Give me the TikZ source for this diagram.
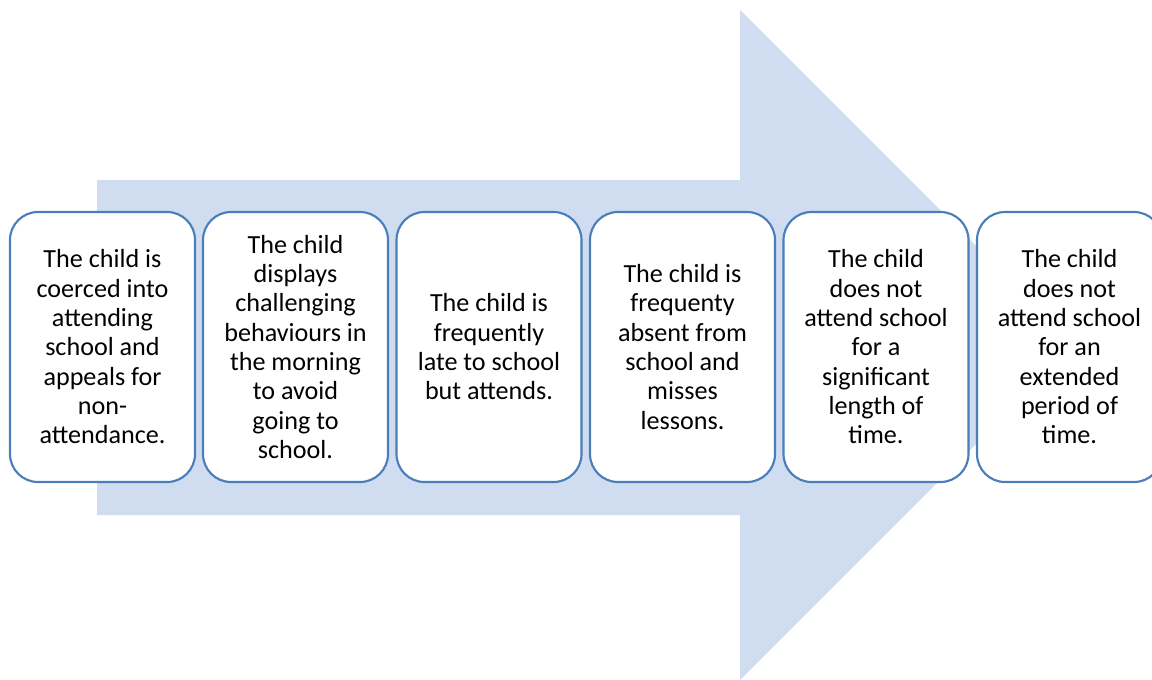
\documentclass[tikz,border=0pt]{standalone}
\usepackage{fontspec}
\setmainfont{Carlito}
\definecolor{arrowfill}{RGB}{208,220,240}
\definecolor{boxline}{RGB}{74,126,187}
\begin{document}
\begin{tikzpicture}[x=0.75pt,y=-0.75pt,
  stagebox/.style={draw=boxline, line width=1.6pt, fill=white, rounded corners=21pt,
    minimum width=138.75pt, minimum height=202.5pt, inner sep=0pt, align=center,
    font=\fontsize{19.6pt}{22pt}\selectfont}]
\useasboundingbox (0,0) rectangle (1152,679);
\begin{scope}
\clip (0,0) rectangle (1152,679);
\fill[arrowfill] (97,180) -- (740,180) -- (740,10) -- (1075,345) -- (740,680) -- (740,515) -- (97,515) -- cycle;
\node[stagebox] (s1) at (102.5,347) {The child is\\coerced into\\attending\\school and\\appeals for\\non-\\attendance.};
\node[stagebox] (s2) at (295.5,347) {The child\\displays\\challenging\\behaviours in\\the morning\\to avoid\\going to\\school.};
\node[stagebox] (s3) at (489,347) {The child is\\frequently\\late to school\\but attends.};
\node[stagebox] (s4) at (682.5,347) {The child is\\frequenty\\absent from\\school and\\misses\\lessons.};
\node[stagebox] (s5) at (876,347) {The child\\does not\\attend school\\for a\\significant\\length of\\time.};
\node[stagebox] (s6) at (1069.5,347) {The child\\does not\\attend school\\for an\\extended\\period of\\time.};
\end{scope}
\end{tikzpicture}
\end{document}
